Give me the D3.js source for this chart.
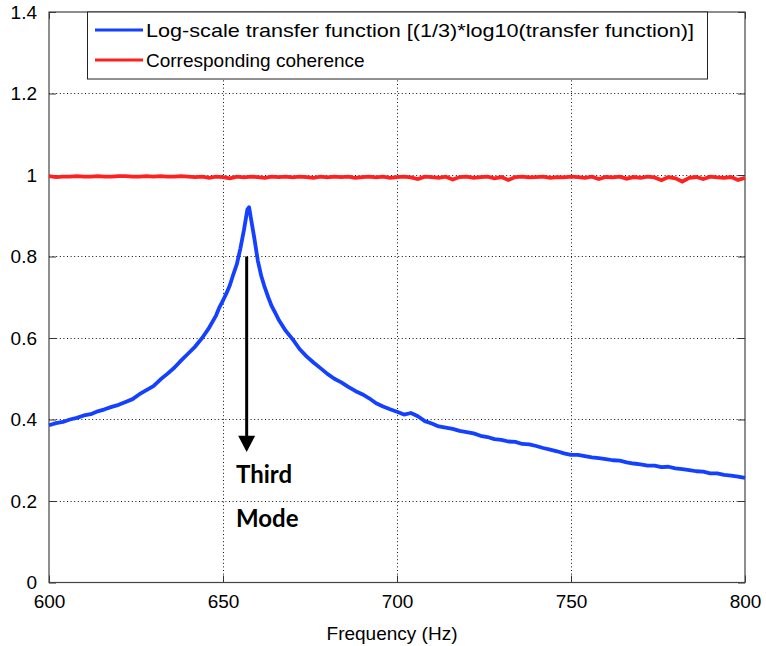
<!DOCTYPE html>
<html>
<head>
<meta charset="utf-8">
<script src="https://cdn.jsdelivr.net/npm/d3@7"></script>
<style>
  body { margin: 0; background: #fff; }
  svg { display: block; }
  .tick text { font-family: "Liberation Sans", Arial, sans-serif; font-size: 19px; fill: #000; }
</style>
</head>
<body>
<svg id="chart" width="766" height="646"></svg>
<script>
// transfer function (blue)
let tfFreq = [600,602,604,606,608,610,612,614,616,618,620,622,624,626,628,630,632,634,636,638,
  640,642,644,646,648,649,650,651,652,653,654,655,656,657,657.5,658,659,660,661,662,663,664,665,666,
  668,670,672,674,676,678,680,682,684,686,688,690,692,694,696,698,700,702,704,706,708,710,712,714,
  716,718,720,722,724,726,728,730,732,734,736,738,740,742,744,746,748,750,752,754,756,758,760,762,
  764,766,768,770,772,774,776,778,780,782,784,786,788,790,792,794,796,798,800];
let tfVal = [0.386,0.391,0.394,0.400,0.404,0.410,0.413,0.420,0.425,0.431,0.436,0.443,0.450,0.462,0.472,0.482,0.498,0.512,0.527,0.545,
  0.562,0.579,0.600,0.625,0.655,0.676,0.692,0.710,0.730,0.757,0.782,0.820,0.864,0.915,0.921,0.895,0.845,0.790,0.752,0.724,0.700,0.678,0.662,0.645,
  0.618,0.597,0.573,0.555,0.540,0.526,0.512,0.500,0.491,0.480,0.470,0.462,0.452,0.440,0.432,0.425,0.419,0.412,0.416,0.408,0.396,0.390,0.383,0.380,
  0.377,0.372,0.369,0.366,0.360,0.357,0.352,0.350,0.346,0.345,0.340,0.339,0.335,0.330,0.326,0.322,0.317,0.313,0.313,0.310,0.307,0.305,0.303,0.300,
  0.299,0.295,0.292,0.290,0.287,0.287,0.283,0.284,0.280,0.278,0.276,0.273,0.272,0.268,0.268,0.264,0.262,0.260,0.257];

// coherence (red), every 2 Hz from 600 to 800
let cohVal = [0.997,0.995,0.996,0.996,0.997,0.996,0.996,0.997,0.996,0.996,0.997,0.997,0.996,0.996,0.997,0.996,0.997,0.996,0.996,0.997,0.996,
  0.995,0.996,0.993,0.996,0.995,0.992,0.996,0.994,0.996,0.995,0.993,0.996,0.995,0.996,0.994,0.996,0.995,0.993,0.996,0.994,0.996,0.995,0.996,0.993,0.995,0.996,0.994,0.996,0.993,0.995,
  0.996,0.994,0.990,0.996,0.995,0.993,0.996,0.989,0.995,0.996,0.993,0.995,0.996,0.992,0.995,0.988,0.995,0.996,0.994,0.995,0.996,0.993,0.995,0.994,0.996,
  0.995,0.993,0.996,0.990,0.995,0.994,0.996,0.991,0.995,0.993,0.996,0.994,0.987,0.995,0.992,0.984,0.993,0.995,0.990,0.996,0.994,0.993,0.995,0.988,0.993];
let cohFreq = cohVal.map((d, i) => 600 + 2 * i);

let xTicks = [600, 650, 700, 750, 800];
let yTicks = [0, 0.2, 0.4, 0.6, 0.8, 1, 1.2, 1.4];
let legendLabels = ["Log-scale transfer function [(1/3)*log10(transfer function)]", "Corresponding coherence"];
let legendColors = ["#1440ff", "#ff2020"];

let svg = d3.select("#chart");
let pLeft = 49, pRight = 745, pTop = 12, pBottom = 582.5;

let x = d3.scaleLinear().domain([600, 800]).range([pLeft, pRight]);
let y = d3.scaleLinear().domain([0, 1.4]).range([pBottom, pTop]);

// dotted grid
let grid = svg.append("g").attr("stroke", "#111").attr("stroke-width", 1).attr("stroke-dasharray", "1,2.6");
grid.selectAll(".gx").data(xTicks.slice(1, -1)).enter().append("line")
  .attr("x1", d => Math.round(x(d)) + 0.5).attr("x2", d => Math.round(x(d)) + 0.5)
  .attr("y1", pTop).attr("y2", pBottom);
grid.selectAll(".gy").data(yTicks.slice(1, -1)).enter().append("line")
  .attr("y1", d => Math.round(y(d)) + 0.5).attr("y2", d => Math.round(y(d)) + 0.5)
  .attr("x1", pLeft).attr("x2", pRight);

// axes with inward ticks
let xAxis = d3.axisBottom(x).tickValues(xTicks).tickFormat(d3.format("d")).tickSize(-7).tickPadding(12);
let yAxis = d3.axisLeft(y).tickValues(yTicks).tickFormat(d => d === 0 || d === 1 ? d : d3.format(".1f")(d)).tickSize(-7).tickPadding(12);

svg.append("g").attr("transform", "translate(0," + pBottom + ")").call(xAxis)
  .call(g => g.select(".domain").remove())
  .call(g => g.selectAll(".tick line").attr("stroke", "#333"));
svg.append("g").attr("transform", "translate(" + pLeft + ",0)").call(yAxis)
  .call(g => g.select(".domain").remove())
  .call(g => g.selectAll(".tick line").attr("stroke", "#333"));
// ticks on the right and top edges
svg.append("g").attr("transform", "translate(" + pRight + ",0)")
  .call(d3.axisRight(y).tickValues(yTicks).tickSize(-7).tickFormat(""))
  .call(g => g.select(".domain").remove())
  .call(g => g.selectAll(".tick line").attr("stroke", "#333"));
svg.append("g").attr("transform", "translate(0," + pTop + ")")
  .call(d3.axisTop(x).tickValues(xTicks).tickSize(-7).tickFormat(""))
  .call(g => g.select(".domain").remove())
  .call(g => g.selectAll(".tick line").attr("stroke", "#333"));

svg.append("rect").attr("x", pLeft).attr("y", pTop).attr("width", pRight - pLeft).attr("height", pBottom - pTop)
  .attr("fill", "none").attr("stroke", "#444").attr("stroke-width", 1.2);

// curves
let line = d3.line().x(d => x(d[0])).y(d => y(d[1]));
svg.append("path").datum(cohFreq.map((f, i) => [f, cohVal[i]]))
  .attr("d", line).attr("fill", "none").attr("stroke", legendColors[1]).attr("stroke-width", 3.8);
svg.append("path").datum(tfFreq.map((f, i) => [f, tfVal[i]]))
  .attr("d", line).attr("fill", "none").attr("stroke", legendColors[0]).attr("stroke-width", 3.8)
  .attr("stroke-linejoin", "round");

// x label
svg.append("text").attr("x", 392).attr("y", 640).attr("text-anchor", "middle")
  .style("font-family", "'Liberation Sans', Arial, sans-serif").style("font-size", "19px")
  .text("Frequency (Hz)");

// legend
let legend = svg.append("g");
legend.append("rect").attr("x", 87.5).attr("y", pTop).attr("width", 620).attr("height", 67)
  .attr("fill", "#fff").attr("stroke", "#222").attr("stroke-width", 1);
legend.selectAll(".ll").data(legendLabels).enter().append("line")
  .attr("x1", 95).attr("x2", 143)
  .attr("y1", (d, i) => 30 + 30 * i).attr("y2", (d, i) => 30 + 30 * i)
  .attr("stroke", (d, i) => legendColors[i]).attr("stroke-width", 3);
legend.selectAll(".lt").data(legendLabels).enter().append("text")
  .attr("x", 146).attr("y", (d, i) => 37 + 30 * i)
  .style("font-family", "'Liberation Sans', Arial, sans-serif").style("font-size", "19px")
  .attr("textLength", (d, i) => i === 0 ? 548 : null)
  .attr("lengthAdjust", "spacingAndGlyphs")
  .text(d => d);

// annotation arrow
let arrowX = x(656.8);
svg.append("line").attr("x1", arrowX).attr("x2", arrowX).attr("y1", y(0.8)).attr("y2", y(0.355))
  .attr("stroke", "#000").attr("stroke-width", 3);
svg.append("path")
  .attr("d", "M" + (arrowX - 8.5) + "," + y(0.36) + "L" + (arrowX + 8.5) + "," + y(0.36) + "L" + arrowX + "," + y(0.32) + "Z")
  .attr("fill", "#000");
svg.append("text").attr("x", 236).attr("y", 483)
  .style("font-family", "Lato, 'Open Sans', sans-serif").style("font-weight", "bold").style("font-size", "24px")
  .text("Third");
svg.append("text").attr("x", 236).attr("y", 527)
  .style("font-family", "Lato, 'Open Sans', sans-serif").style("font-weight", "bold").style("font-size", "24px")
  .text("Mode");
</script>
</body>
</html>
